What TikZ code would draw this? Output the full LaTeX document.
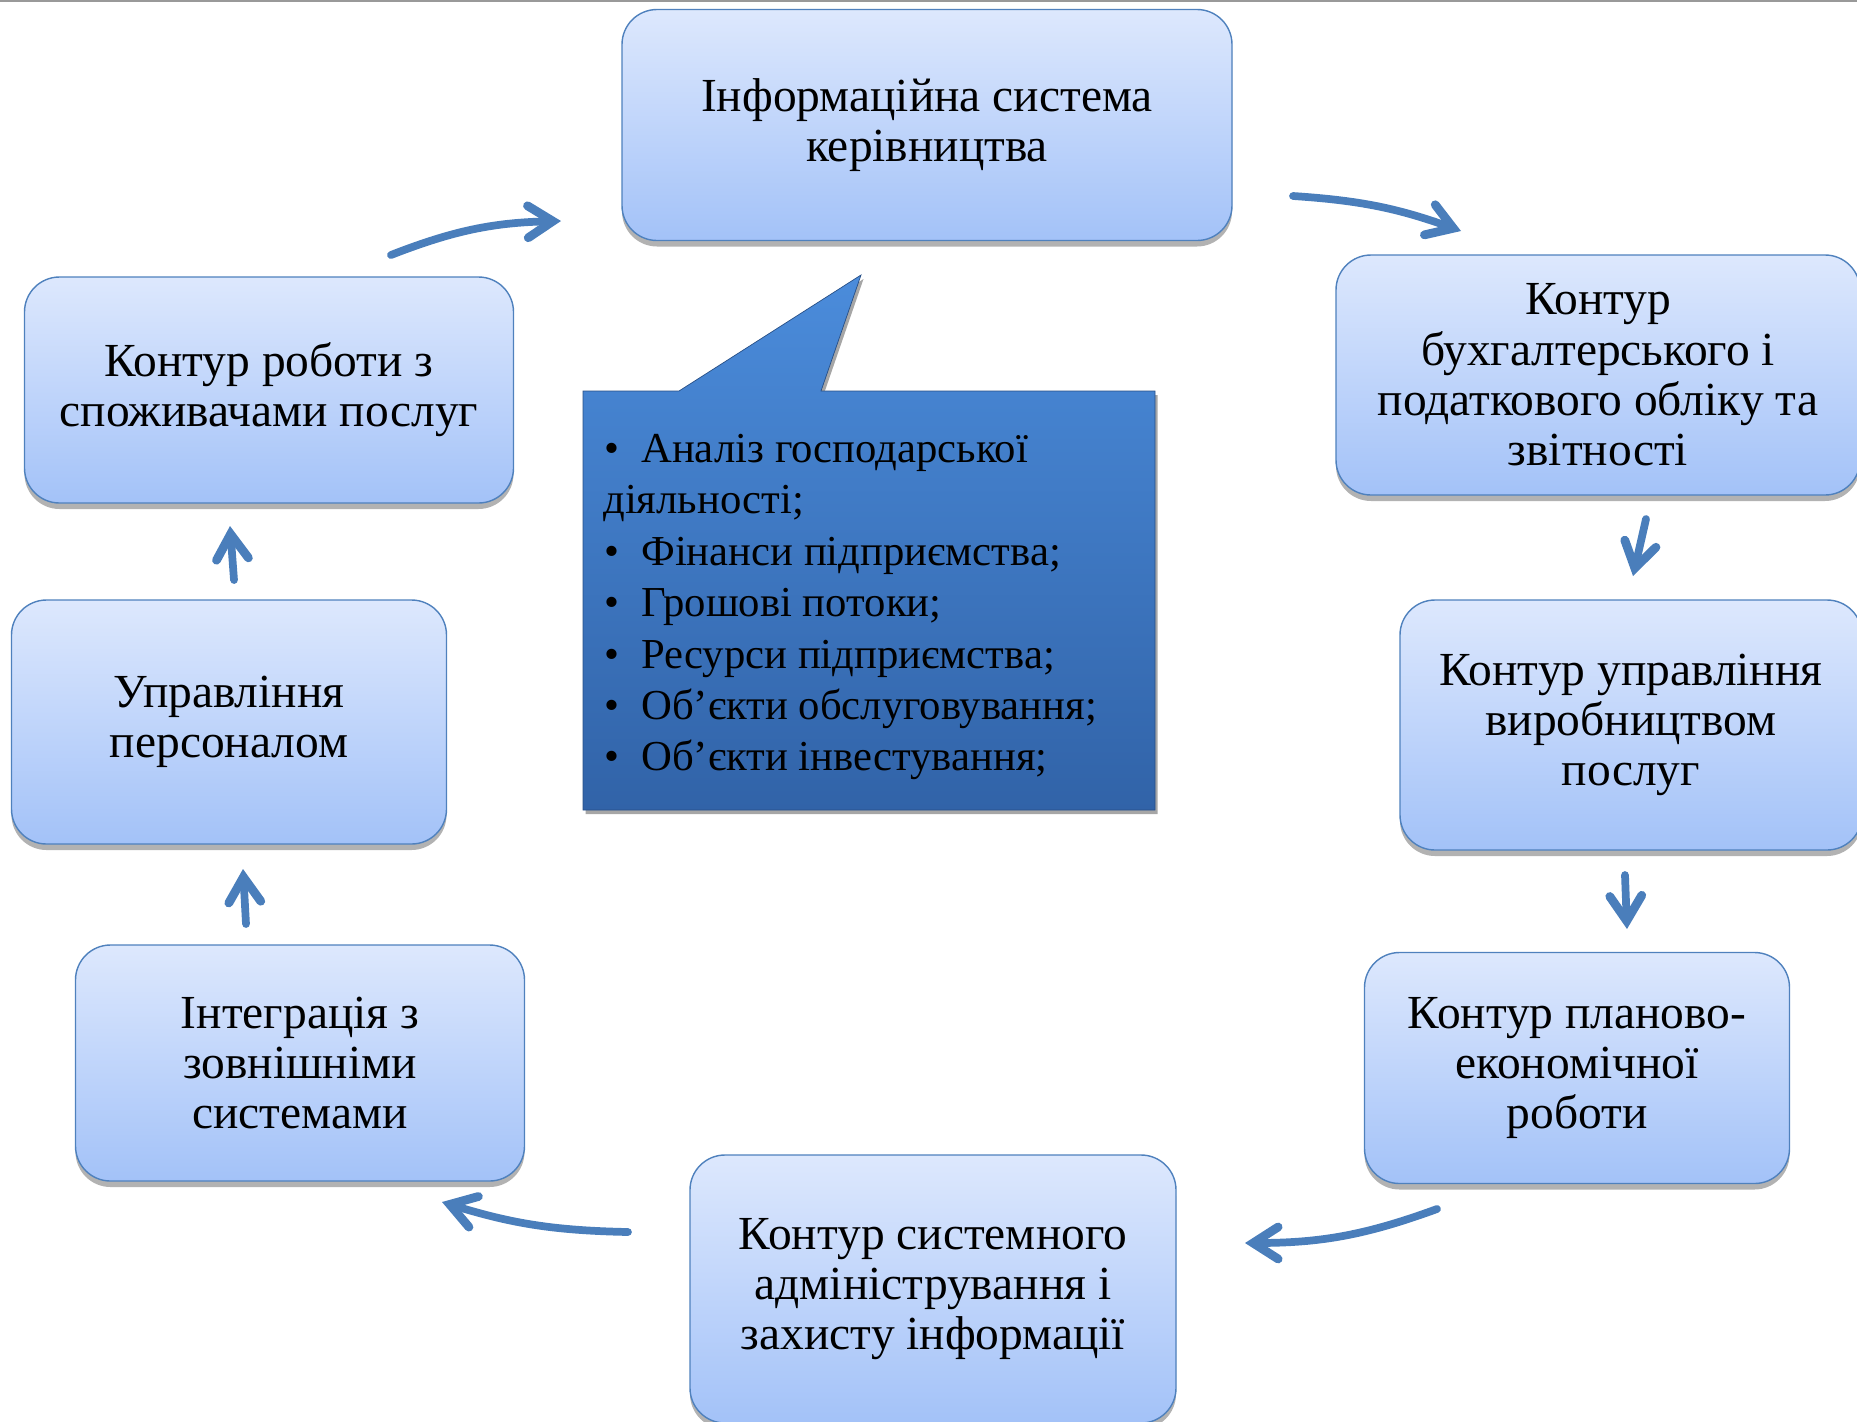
\documentclass[tikz,border=0pt]{standalone}
\usepackage{fontspec}
\setmainfont{LiberationSerif}[Extension=.ttf, UprightFont=*-Regular, BoldFont=*-Bold]
\usetikzlibrary{arrows.meta,shadows}

\definecolor{boxtop}{HTML}{DDE8FD}
\definecolor{boxbot}{HTML}{A3C2F8}
\definecolor{boxline}{HTML}{4F81BD}
\definecolor{flowblue}{HTML}{4A7EBB}
\definecolor{calltop}{HTML}{4B8CDB}
\definecolor{callbot}{HTML}{3163A8}

\begin{document}
\begin{tikzpicture}[x=0.02cm,y=-0.02cm,
    contour/.style={rectangle, rounded corners=0.7cm, draw=boxline, thick,
      top color=boxtop, bottom color=boxbot, align=center, inner sep=0pt,
      font=\fontsize{27}{28.6}\selectfont,
      drop shadow={shadow xshift=0pt, shadow yshift=-0.12cm, opacity=0.3, fill=black}},
    flow/.style={draw=flowblue, line width=4.4pt, line cap=round,
      -{Straight Barb[length=0.5cm,width=0.64cm,line width=5pt,line cap=round,line join=miter]}}]
  \useasboundingbox (0,0) rectangle (1857,1421);
  \draw[gray!80, line width=1.6pt] (0,1) -- (1857,1);

  % boxes of the cycle
  \node[contour, minimum width=610*0.02cm, minimum height=231*0.02cm] (isk) at (927,125)
    {Інформаційна система\\керівництва};
  \node[contour, minimum width=524*0.02cm, minimum height=240*0.02cm] (buh) at (1598,375)
    {Контур\\бухгалтерського і\\податкового обліку та\\звітності};
  \node[contour, minimum width=462*0.02cm, minimum height=250*0.02cm] (vyr) at (1631,725)
    {Контур управління\\виробництвом\\послуг};
  \node[contour, minimum width=425*0.02cm, minimum height=231*0.02cm] (plan) at (1577,1068)
    {Контур планово-\\економічної\\роботи};
  \node[contour, minimum width=486*0.02cm, minimum height=268*0.02cm] (sys) at (933,1289)
    {Контур системного\\адміністрування і\\захисту інформації};
  \node[contour, minimum width=449*0.02cm, minimum height=236*0.02cm] (int) at (300,1063)
    {Інтеграція з\\зовнішніми\\системами};
  \node[contour, minimum width=435*0.02cm, minimum height=244*0.02cm] (pers) at (229,722)
    {Управління\\персоналом};
  \node[contour, minimum width=489*0.02cm, minimum height=226*0.02cm] (spoz) at (269,390)
    {Контур роботи з\\споживачами послуг};

  % callout
  \path[top color=calltop, bottom color=callbot, draw=callbot!80!black, thin,
      drop shadow={shadow xshift=0.05cm, shadow yshift=-0.08cm, opacity=0.35, fill=black}]
    (583,391) -- (679,391) -- (861,275) -- (821,391) -- (1155,391)
    -- (1155,810) -- (583,810) -- cycle;
  \node[anchor=west, align=left, inner sep=0pt, font=\fontsize{24.3}{29.3}\selectfont] (zmist) at (603,607)
    {\hspace*{0.02cm}\makebox[0.74cm][l]{•}Аналіз господарської\\
     діяльності;\\
     \hspace*{0.02cm}\makebox[0.74cm][l]{•}Фінанси підприємства;\\
     \hspace*{0.02cm}\makebox[0.74cm][l]{•}Грошові потоки;\\
     \hspace*{0.02cm}\makebox[0.74cm][l]{•}Ресурси підприємства;\\
     \hspace*{0.02cm}\makebox[0.74cm][l]{•}Об’єкти обслуговування;\\
     \hspace*{0.02cm}\makebox[0.74cm][l]{•}Об{\char"0027}єкти інвестування;};

  % arrow ends
  \coordinate (a1) at (391,255);  \coordinate (b1) at (561,221);
  \coordinate (a2) at (1293,196); \coordinate (b2) at (1461,231);
  \coordinate (a3) at (1646,519); \coordinate (b3) at (1633,576);
  \coordinate (a4) at (1625,875); \coordinate (b4) at (1627,929);
  \coordinate (a5) at (1437,1209); \coordinate (b5) at (1245,1243);
  \coordinate (a6) at (628,1232); \coordinate (b6) at (442,1202);
  \coordinate (a7) at (246,924);  \coordinate (b7) at (243,869);
  \coordinate (a8) at (234,580);  \coordinate (b8) at (230,526);

  \draw[flow] (a1) to[bend left=10] (b1);
  \draw[flow] (a2) to[bend left=8] (b2);
  \draw[flow] (a3) -- (b3);
  \draw[flow] (a4) -- (b4);
  \draw[flow] (a5) to[bend left=10] (b5);
  \draw[flow] (a6) to[bend left=8] (b6);
  \draw[flow] (a7) -- (b7);
  \draw[flow] (a8) -- (b8);
\end{tikzpicture}
\end{document}
